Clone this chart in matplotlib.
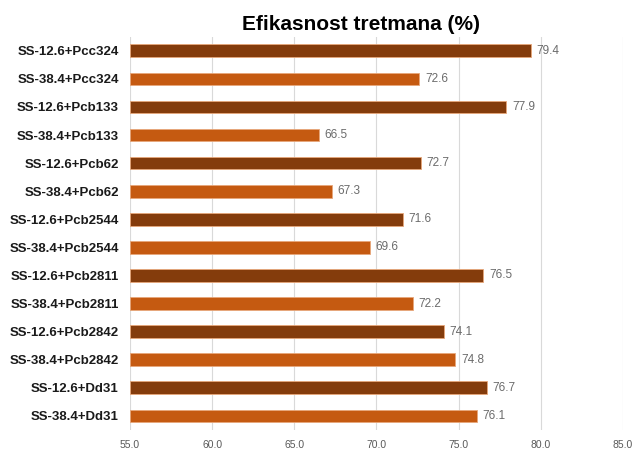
import matplotlib
matplotlib.use("Agg")
import matplotlib.pyplot as plt

categories = [
    "SS-12.6+Pcc324", "SS-38.4+Pcc324",
    "SS-12.6+Pcb133", "SS-38.4+Pcb133",
    "SS-12.6+Pcb62", "SS-38.4+Pcb62",
    "SS-12.6+Pcb2544", "SS-38.4+Pcb2544",
    "SS-12.6+Pcb2811", "SS-38.4+Pcb2811",
    "SS-12.6+Pcb2842", "SS-38.4+Pcb2842",
    "SS-12.6+Dd31", "SS-38.4+Dd31",
]
values = [79.4, 72.6, 77.9, 66.5, 72.7, 67.3, 71.6, 69.6, 76.5, 72.2, 74.1, 74.8, 76.7, 76.1]
xticks = [55.0, 60.0, 65.0, 70.0, 75.0, 80.0, 85.0]

dark = "#843C0C"
light = "#C55A11"
colors = [dark if c.startswith("SS-12.6") else light for c in categories]

fig = plt.figure(figsize=(6.33, 4.54), dpi=100)
ax = fig.add_axes([0.2054, 0.053, 0.7786, 0.866])

y = list(range(len(categories)))
left = xticks[0]
ax.barh(y, [v - left for v in values], left=left, height=0.45,
        color=colors, edgecolor="#E8A77A", linewidth=0.6, zorder=3)

for yi, v in zip(y, values):
    ax.text(v + 0.35, yi, f"{v:.1f}", va="center", ha="left",
            fontsize=8.5, color="#6B6B6B", family="Liberation Sans")

ax.set_xlim(xticks[0], xticks[-1])
ax.set_ylim(len(categories) - 0.5, -0.5)
ax.set_xticks(xticks)
ax.set_xticklabels([f"{t:.1f}" for t in xticks], fontsize=7.5, color="#595959",
                   family="Liberation Sans")
ax.set_yticks(y)
ax.set_yticklabels(categories, fontsize=9.5, fontweight="bold", color="#1a1a1a",
                   family="Liberation Sans")
ax.tick_params(axis="both", length=0)
ax.tick_params(axis="y", pad=8)
ax.tick_params(axis="x", pad=7)
ax.grid(axis="x", color="#D9D9D9", linewidth=0.8, zorder=0)
for s in ax.spines.values():
    s.set_visible(False)

fig.text(0.571, 0.945, "Efikasnost tretmana (%)", ha="center", va="center",
         fontsize=15, fontweight="bold", family="Liberation Sans")

fig.savefig("out.png", dpi=100)
